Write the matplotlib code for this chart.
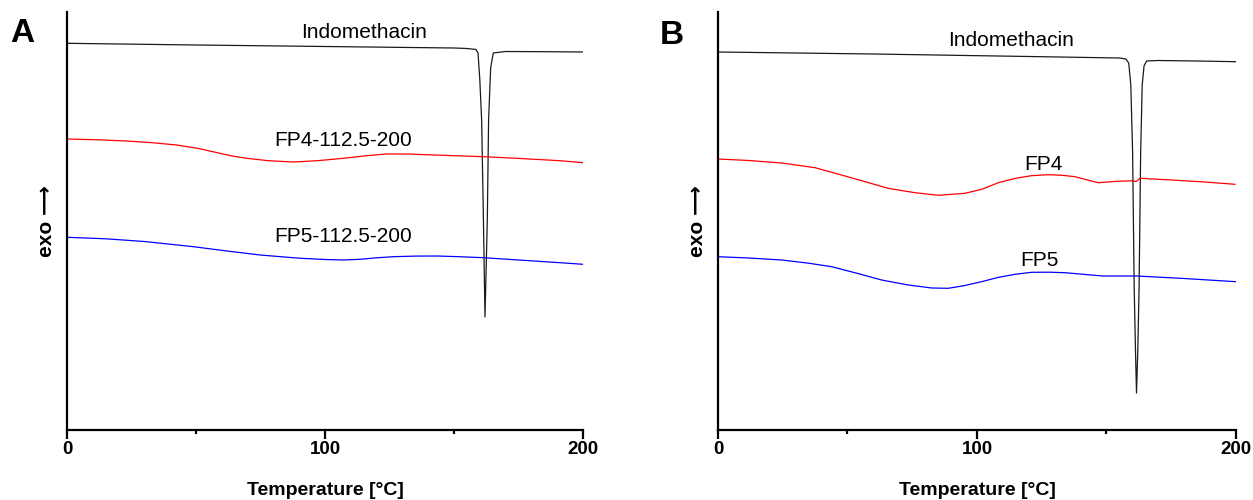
"""DSC 서모그램 두 패널(A, B) 재현 — Indomethacin 과 FP4/FP5 제형."""
import matplotlib
matplotlib.use("Agg")
import matplotlib.pyplot as plt
from matplotlib.ticker import MultipleLocator

# ---------------------------------------------------------------------------
# 데이터 (그림에서 읽은 값, y는 임의 단위 — 위로 갈수록 exo)
# ---------------------------------------------------------------------------
# Panel A
a_indo_t = [0, 50, 100, 150, 155, 158.5, 159.3, 160.0, 160.7, 161.4, 162.0,
            162.9, 163.4, 164.2, 165.2, 170, 185, 200]
a_indo_y = [386.7, 385, 383.5, 382, 381.5, 380.5, 377, 350, 310, 210, 113,
            210, 310, 362, 377, 378.5, 378.3, 378]

a_fp4_t = [0, 12, 23.1, 33, 42.5, 51, 59.3, 64, 69.7, 78, 87.7, 97, 107.1,
           116, 123.9, 132, 139.4, 150, 161.4, 175, 191.1, 200]
a_fp4_y = [291, 290.2, 289, 287.3, 285, 281.5, 276.7, 274, 271.7, 269.3, 268,
           269.3, 271.7, 274.3, 276, 276, 275.3, 274.3, 273.3, 271.6, 269.3, 267.3]

a_fp5_t = [0, 15, 30, 49, 62, 74.8, 90, 100, 107.1, 113.6, 120, 126.5, 135,
           143.3, 152, 161.4, 175, 191.1, 200]
a_fp5_y = [192.7, 191.2, 188.5, 183.3, 179, 175, 171.8, 170.5, 170, 170.7,
           172.2, 173.3, 173.9, 174, 173.3, 172.3, 170, 167.3, 165.7]

# Panel B
b_indo_t = [0, 60, 120, 155, 157.5, 158.6, 159.4, 160.1, 160.7, 161.2, 161.6,
            162.1, 162.6, 163.2, 163.8, 164.5, 165.5, 170, 185, 200]
b_indo_y = [378, 376, 373.5, 372, 371, 367, 345, 277, 143, 80, 37,
            80, 143, 277, 345, 364, 369, 369.5, 369, 368.3]

b_fp4_t = [0, 12, 24.6, 37.5, 47, 56.8, 66, 76.1, 85.1, 95.4, 102, 108.2,
           115, 121.1, 127.4, 133, 137.8, 142, 146.8, 150.6, 153.9, 160.3,
           161.4, 163, 175.2, 188, 199.6]
b_fp4_y = [271, 269.5, 267, 262.3, 255.5, 248.3, 241.5, 237.3, 234.7, 236.7,
           240.8, 247.3, 251.8, 254.3, 255.3, 254.7, 253.3, 250.5, 247.3,
           248, 248.7, 249.3, 248.3, 251.7, 250, 248, 245.7]

b_fp5_t = [0, 12, 24.6, 35, 43.9, 54, 63.2, 73, 82.5, 88.9, 95, 101.8, 108,
           114.7, 121.1, 128, 134, 148.6, 161.7, 180, 200]
b_fp5_y = [173.3, 172, 170, 166.8, 163.3, 156.5, 150, 145.2, 142, 141.7,
           144.3, 148.3, 152.5, 155.7, 157.7, 157.8, 157.3, 154, 154, 151.5, 148.3]

# 곡선 라벨: (텍스트, 온도, y)
a_labels = [("Indomethacin", 115, 397), ("FP4-112.5-200", 107, 289),
            ("FP5-112.5-200", 107, 194)]
b_labels = [("Indomethacin", 113, 390), ("FP4", 125.5, 266), ("FP5", 124, 169.5)]

x_ticks = [0, 100, 200]

plt.rcParams["font.family"] = ["Liberation Sans", "DejaVu Sans"]


def draw_panel(ax, indo, fp4, fp5, labels):
    ax.plot(*indo, color="#1a1a1a", lw=0.9)
    ax.plot(*fp4, color="#ff0000", lw=0.9)
    ax.plot(*fp5, color="#0000ff", lw=0.9)
    for text, t, y in labels:
        ax.text(t, y, text, ha="center", va="center", fontsize=15)

    ax.set_xlim(0, 200)
    ax.set_ylim(0, 418)
    ax.set_xticks(x_ticks)
    ax.xaxis.set_minor_locator(MultipleLocator(50))
    ax.set_yticks([])
    for s in ("top", "right"):
        ax.spines[s].set_visible(False)
    for s in ("left", "bottom"):
        ax.spines[s].set_linewidth(1.6)
    ax.tick_params(axis="x", which="major", direction="out", length=6.5,
                   width=1.6, pad=1.5, labelsize=13.5)
    ax.tick_params(axis="x", which="minor", direction="out", length=3, width=1.6)
    for lab in ax.get_xticklabels():
        lab.set_fontweight("bold")
    ax.set_xlabel("Temperature [°C]", fontweight="bold", fontsize=14,
                  labelpad=17)
    # 긴 화살표(⟶)는 DejaVu Sans 에서 가져온다
    ax.set_ylabel("exo ⟶", fontweight="bold", fontsize=15, labelpad=8)


fig = plt.figure(figsize=(12.53, 5.0), dpi=100)
ax_a = fig.add_axes([0.0535, 0.14, 0.4118, 0.836])
ax_b = fig.add_axes([0.5730, 0.14, 0.4134, 0.836])

draw_panel(ax_a, (a_indo_t, a_indo_y), (a_fp4_t, a_fp4_y), (a_fp5_t, a_fp5_y), a_labels)
draw_panel(ax_b, (b_indo_t, b_indo_y), (b_fp4_t, b_fp4_y), (b_fp5_t, b_fp5_y), b_labels)

fig.text(22 / 1253, 1 - 33 / 500, "A", fontsize=24, fontweight="bold",
         ha="center", va="center")
fig.text(672 / 1253, 1 - 36 / 500, "B", fontsize=24, fontweight="bold",
         ha="center", va="center")

fig.savefig("out.png", dpi=100)
plt.close(fig)
